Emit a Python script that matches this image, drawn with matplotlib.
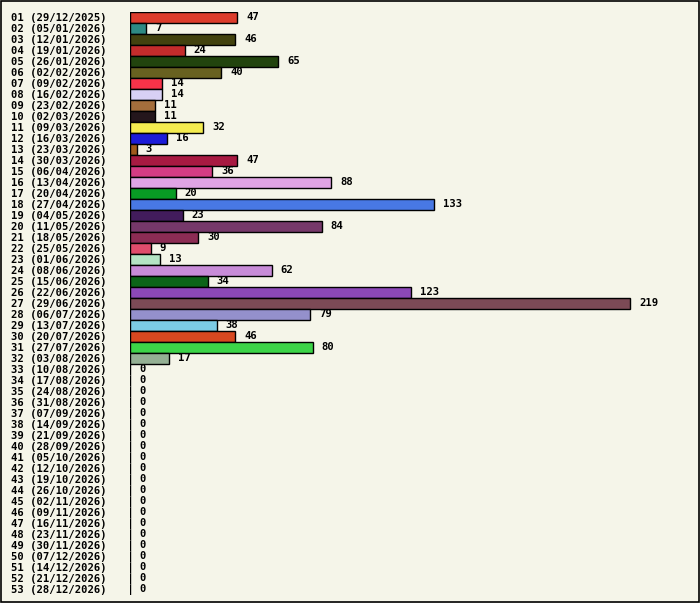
import matplotlib.pyplot as plt
from matplotlib.patches import Rectangle

# weekly counts, week number + monday date
weeks = [f"{i:02d}" for i in range(1, 54)]
dates = ["29/12/2025", "05/01/2026", "12/01/2026", "19/01/2026", "26/01/2026",
         "02/02/2026", "09/02/2026", "16/02/2026", "23/02/2026", "02/03/2026",
         "09/03/2026", "16/03/2026", "23/03/2026", "30/03/2026", "06/04/2026",
         "13/04/2026", "20/04/2026", "27/04/2026", "04/05/2026", "11/05/2026",
         "18/05/2026", "25/05/2026", "01/06/2026", "08/06/2026", "15/06/2026",
         "22/06/2026", "29/06/2026", "06/07/2026", "13/07/2026", "20/07/2026",
         "27/07/2026", "03/08/2026", "10/08/2026", "17/08/2026", "24/08/2026",
         "31/08/2026", "07/09/2026", "14/09/2026", "21/09/2026", "28/09/2026",
         "05/10/2026", "12/10/2026", "19/10/2026", "26/10/2026", "02/11/2026",
         "09/11/2026", "16/11/2026", "23/11/2026", "30/11/2026", "07/12/2026",
         "14/12/2026", "21/12/2026", "28/12/2026"]
counts = [47, 7, 46, 24, 65, 40, 14, 14, 11, 11, 32, 16, 3, 47, 36, 88, 20, 133,
          23, 84, 30, 9, 13, 62, 34, 123, 219, 79, 38, 46, 80, 17] + [0] * 21
colors = ["#dc3c2c", "#2e8a84", "#42420f", "#c42c2c", "#22440e", "#686120",
          "#f63349", "#d8d0f4", "#a46e3c", "#24161c", "#f4ec50", "#1c1cd8",
          "#a05a1c", "#a81a42", "#d43c84", "#e0a4e4", "#089c24", "#4878e4",
          "#421c5c", "#76386a", "#8c2c54", "#e04c6c", "#b4e4c4", "#c88cd8",
          "#0c6418", "#8c48b8", "#7c4a56", "#9490cc", "#7ccce4", "#d84820",
          "#3cd448", "#94b094"] + ["#000000"] * 21

labels = [f"{w} ({d})" for w, d in zip(weeks, dates)]
bg = "#f5f5e9"

W, H = 700, 603
fig = plt.figure(figsize=(W / 100, H / 100), dpi=100, facecolor=bg)
fig.patches.append(Rectangle((0.5 / W, 1.5 / H), (W - 2) / W, (H - 2.5) / H,
                             transform=fig.transFigure, fill=False,
                             edgecolor="black", linewidth=1.2))

left, right = 130, 690
top, bottom = 11.5, 594.5
ax = fig.add_axes([left / W, (H - bottom) / H, (right - left) / W, (bottom - top) / H])
ax.set_facecolor(bg)
for s in ax.spines.values():
    s.set_visible(False)

pos = list(range(len(counts)))
ax.barh(pos, counts, height=1.0, color=colors, edgecolor="black", linewidth=1.0)
ax.set_xlim(0, (right - left) * 219 / 500)
ax.set_ylim(len(counts) - 0.5, -0.5)

font = dict(family="DejaVu Sans Mono", weight="bold", size=7.6)
for p, v in zip(pos, counts):
    ax.annotate(str(v), (v, p), xytext=(9, 0), textcoords="offset pixels",
                ha="left", va="center", **font)

ax.set_xticks([])
ax.set_yticks(pos)
ax.set_yticklabels(labels, **font)
ax.tick_params(axis="y", length=0, pad=16.5)

fig.savefig("out.png", dpi=100, facecolor=bg)
